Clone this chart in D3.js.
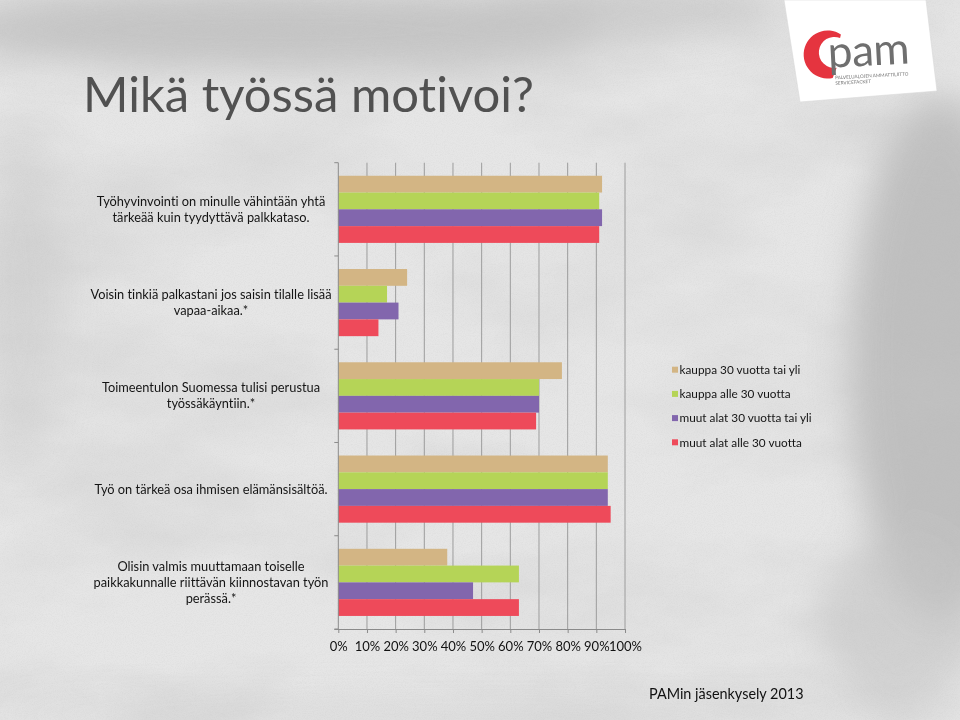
<!DOCTYPE html>
<html><head><meta charset="utf-8">
<script src="https://cdn.jsdelivr.net/npm/d3@7"></script>
<style>html,body{margin:0;padding:0;background:#e3e3e3;overflow:hidden}svg{display:block}
svg text{font-variant-ligatures:none;font-feature-settings:"liga" 0,"clig" 0,"dlig" 0}</style>
</head><body>
<script>
// ---- data ----
const title = "Mikä työssä motivoi?";
const footer = "PAMin jäsenkysely 2013";
const categories = [
  "Työhyvinvointi on minulle vähintään yhtä tärkeää kuin tyydyttävä palkkataso.",
  "Voisin tinkiä palkastani jos saisin tilalle lisää vapaa-aikaa.*",
  "Toimeentulon Suomessa tulisi perustua työssäkäyntiin.*",
  "Työ on tärkeä osa ihmisen elämänsisältöä.",
  "Olisin valmis muuttamaan toiselle paikkakunnalle riittävän kiinnostavan työn perässä.*"
];
const categoryLines = [
  ["Työhyvinvointi on minulle vähintään yhtä", "tärkeää kuin tyydyttävä palkkataso."],
  ["Voisin tinkiä palkastani jos saisin tilalle lisää", "vapaa-aikaa.*"],
  ["Toimeentulon Suomessa tulisi perustua", "työssäkäyntiin.*"],
  ["Työ on tärkeä osa ihmisen elämänsisältöä."],
  ["Olisin valmis muuttamaan toiselle", "paikkakunnalle riittävän kiinnostavan työn", "perässä.*"]
];
const seriesNames = ["kauppa 30 vuotta tai yli", "kauppa alle 30 vuotta", "muut alat 30 vuotta tai yli", "muut alat alle 30 vuotta"];
const seriesColors = ["#D3B584", "#B5D457", "#8266AD", "#EE4A5A"];
const kauppa30Plus = [92, 24, 78, 94, 38];
const kauppaAlle30 = [91, 17, 70, 94, 63];
const muut30Plus   = [92, 21, 70, 94, 47];
const muutAlle30   = [91, 14, 69, 95, 63];
const seriesValues = [kauppa30Plus, kauppaAlle30, muut30Plus, muutAlle30];
const xTickValues = [0, 10, 20, 30, 40, 50, 60, 70, 80, 90, 100];

// ---- setup ----
const W = 960, H = 720;
const FONT = "Lato, Carlito, Calibri, sans-serif";
const svg = d3.select("body").append("svg").attr("width", W).attr("height", H);
const defs = svg.append("defs");

// background texture
const clouds = defs.append("filter").attr("id", "clouds").attr("x", 0).attr("y", 0).attr("width", 1).attr("height", 1);
clouds.append("feTurbulence").attr("type", "fractalNoise").attr("baseFrequency", "0.004 0.009").attr("numOctaves", 5).attr("seed", 7).attr("result", "n");
clouds.append("feColorMatrix").attr("in", "n").attr("type", "matrix")
  .attr("values", "0 0 0 0 0.55  0 0 0 0 0.55  0 0 0 0 0.55  1.5 0 0 0 -0.62");
const grain = defs.append("filter").attr("id", "grain").attr("x", 0).attr("y", 0).attr("width", 1).attr("height", 1);
grain.append("feTurbulence").attr("type", "fractalNoise").attr("baseFrequency", "0.9").attr("numOctaves", 2).attr("seed", 2).attr("result", "g");
grain.append("feColorMatrix").attr("in", "g").attr("type", "matrix")
  .attr("values", "0 0 0 0 0.5  0 0 0 0 0.5  0 0 0 0 0.5  0.9 0 0 0 -0.38");
const blur = defs.append("filter").attr("id", "soft").attr("x", "-50%").attr("y", "-50%").attr("width", "200%").attr("height", "200%");
blur.append("feGaussianBlur").attr("stdDeviation", 18);

svg.append("rect").attr("width", W).attr("height", H).attr("fill", "#e6e6e6");
const patches = [
  {cx: 280, cy: 30, rx: 330, ry: 40, c: "#bdbdbd", o: 0.8},
  {cx: 620, cy: 10, rx: 160, ry: 30, c: "#c4c4c4", o: 0.7},
  {cx: 940, cy: 360, rx: 90, ry: 260, c: "#b5b5b5", o: 0.8},
  {cx: 900, cy: 620, rx: 80, ry: 90, c: "#c6c6c6", o: 0.6},
  {cx: 20, cy: 300, rx: 40, ry: 160, c: "#cdcdcd", o: 0.6},
  {cx: 480, cy: 715, rx: 480, ry: 12, c: "#cfcfcf", o: 0.6}
];
svg.append("g").attr("filter", "url(#soft)").selectAll("ellipse").data(patches).join("ellipse")
  .attr("cx", d => d.cx).attr("cy", d => d.cy).attr("rx", d => d.rx).attr("ry", d => d.ry)
  .attr("fill", d => d.c).attr("opacity", d => d.o);
svg.append("rect").attr("width", W).attr("height", H).attr("filter", "url(#clouds)").attr("opacity", 0.6);
svg.append("rect").attr("width", W).attr("height", H).attr("filter", "url(#grain)").attr("opacity", 0.35);

// ---- logo ----
const logo = svg.append("g");
logo.append("path").attr("d", "M784,0 L926,0 L937,91 L800,102 Z").attr("fill", "#ffffff")
  .attr("stroke", "#d8d8d8").attr("stroke-width", 0.6);
const lg = logo.append("g").attr("transform", "rotate(-3 860 55)");
lg.append("path")
  .attr("d", "M842,33.5 A24,24 0 1 0 831.5,76.5 L836,66.5 A15.5,15.5 0 1 1 841,37 Z")
  .attr("fill", "#E5343F");
lg.append("text").attr("x", 828).attr("y", 66).text("pam")
  .attr("font-family", "Lato, sans-serif").attr("font-weight", 400).attr("font-size", 44)
  .attr("fill", "#6f6f6f").attr("letter-spacing", -0.5);
lg.append("text").attr("x", 834).attr("y", 78).text("PALVELUALOJEN AMMATTILIITTO")
  .attr("font-family", "Lato, sans-serif").attr("font-size", 4.7).attr("fill", "#777");
lg.append("text").attr("x", 834).attr("y", 83.5).text("SERVICEFACKET")
  .attr("font-family", "Lato, sans-serif").attr("font-size", 4.7).attr("fill", "#777");

// ---- title ----
svg.append("text").attr("x", 83).attr("y", 112).text(title)
  .attr("font-family", FONT).attr("font-size", 49).attr("fill", "#515151");

// ---- chart ----
const x0 = 338.3, x1 = 625, yTop = 162.7, yBot = 629;
const x = d3.scaleLinear().domain([0, 100]).range([x0, x1]);
const y = d3.scaleBand().domain(categories).range([yTop, yBot]).paddingInner(0.28).paddingOuter(0.14);
const ys = d3.scaleBand().domain(seriesNames).range([0, y.bandwidth()]).padding(0);

const chart = svg.append("g");
// gridlines
chart.append("g").selectAll("line").data(xTickValues.slice(1)).join("line")
  .attr("x1", d => x(d)).attr("x2", d => x(d)).attr("y1", yTop).attr("y2", yBot)
  .attr("stroke", "#9c9c9c").attr("stroke-width", 1);

// bars
seriesNames.forEach((s, si) => {
  chart.append("g").attr("fill", seriesColors[si]).selectAll("rect").data(categories).join("rect")
    .attr("x", x(0)).attr("y", (c) => y(c) + ys(s))
    .attr("width", (c, i) => x(seriesValues[si][i]) - x(0))
    .attr("height", ys.bandwidth());
});

// x axis
const xAxis = d3.axisBottom(x).tickValues(xTickValues).tickFormat(d => d + "%").tickSize(4).tickSizeOuter(0);
const gx = chart.append("g").attr("transform", `translate(0,${yBot})`).call(xAxis);
gx.select(".domain").attr("stroke", "#8a8a8a").attr("d", `M${x0 - 4},0.5H${x1}`);
gx.selectAll(".tick line").attr("stroke", "#8a8a8a");
gx.selectAll(".tick text").attr("font-family", FONT).attr("font-size", 13).attr("fill", "#111").attr("dy", "0").attr("y", 21.5);

// y axis (line with outward ticks at category boundaries)
const boundaries = [yTop].concat(categories.map(c => y(c) + y.bandwidth() + y.step() * y.paddingInner() / 2));
chart.append("line").attr("x1", x0).attr("x2", x0).attr("y1", yTop).attr("y2", yBot).attr("stroke", "#8a8a8a");
chart.append("g").selectAll("line").data(boundaries).join("line")
  .attr("x1", x0 - 4).attr("x2", x0).attr("y1", d => d).attr("y2", d => d).attr("stroke", "#8a8a8a");

// category labels
const lineH = 16.2;
const lab = chart.append("g").attr("font-family", FONT).attr("font-size", 12.8).attr("fill", "#141414").attr("text-anchor", "middle");
categories.forEach((c, i) => {
  const lines = categoryLines[i];
  const cy = y(c) + y.bandwidth() / 2;
  const t = lab.append("text").attr("x", 211).attr("y", cy - (lines.length - 1) * lineH / 2 + 4.5);
  lines.forEach((ln, k) => t.append("tspan").attr("x", 211).attr("dy", k === 0 ? 0 : lineH).text(ln));
});

// legend
const leg = svg.append("g").attr("font-family", FONT).attr("font-size", 11.8).attr("fill", "#141414");
seriesNames.forEach((s, i) => {
  const cy = 369.7 + i * 24.2;
  leg.append("rect").attr("x", 672).attr("y", cy - 3).attr("width", 6).attr("height", 6).attr("fill", seriesColors[i]);
  leg.append("text").attr("x", 679.5).attr("y", cy + 4.2).text(s);
});

// footer
svg.append("text").attr("x", 649).attr("y", 698.5).text(footer)
  .attr("font-family", FONT).attr("font-size", 14.4).attr("fill", "#111");
</script>
</body></html>
